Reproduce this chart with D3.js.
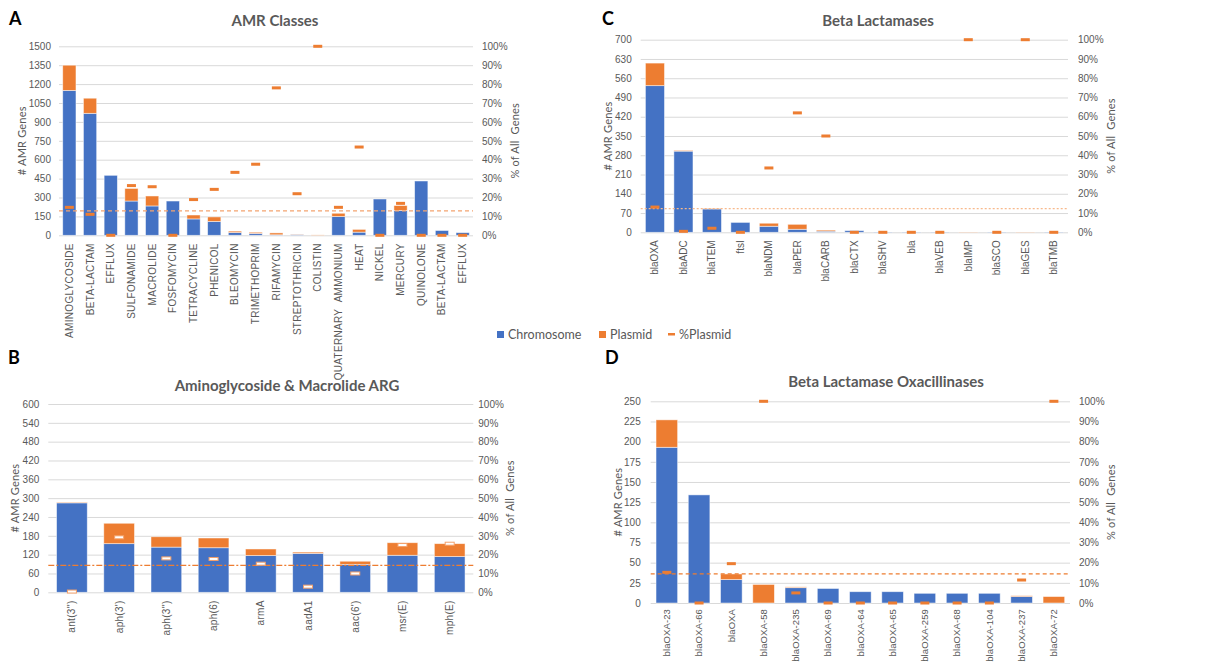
<!DOCTYPE html>
<html>
<head>
<meta charset="utf-8">
<script src="https://cdn.jsdelivr.net/npm/d3@7"></script>
<style>
  body { margin: 0; background: #fff; }
  svg { font-family: Lato, "Open Sans", sans-serif; }
  .tick text { fill: #595959; font-size: 10px; }
  .grid line { stroke: #d9d9d9; }
  .title { fill: #595959; font-size: 15px; font-weight: bold; }
  .letter { fill: #000; font-size: 18px; font-weight: bold; }
  .axtitle { fill: #595959; font-size: 11px; letter-spacing: 0.2px; }
  .legend text { fill: #595959; font-size: 12.5px; }
</style>
</head>
<body>
<svg id="chart" width="1206" height="666"></svg>
<script>
// A - AMR classes
var classCats = ["AMINOGLYCOSIDE", "BETA-LACTAM", "EFFLUX", "SULFONAMIDE", "MACROLIDE", "FOSFOMYCIN",
  "TETRACYCLINE", "PHENICOL", "BLEOMYCIN", "TRIMETHOPRIM", "RIFAMYCIN", "STREPTOTHRICIN", "COLISTIN",
  "QUATERNARY AMMONIUM", "HEAT", "NICKEL", "MERCURY", "QUINOLONE", "BETA-LACTAM", "EFFLUX"];
var classChrom   = [1150, 968, 476, 272, 233, 272, 130, 110, 22, 15, 4, 7, 0, 149, 25, 288, 196, 431, 38, 21];
var classPlasmid = [200, 120, 0, 100, 79, 0, 31, 36, 11, 9, 15, 2, 3, 26, 22, 0, 40, 0, 0, 0];
var classPct     = [0.148, 0.111, 0, 0.263, 0.257, 0, 0.189, 0.243, 0.333, 0.376, 0.78, 0.22, 1, 0.148, 0.467, 0, 0.169, 0, 0, 0];
var classAvg = 0.129;
var classTicks = d3.range(0, 1501, 150);

// B - aminoglycoside & macrolide ARG
var argCats = ["ant(3'')", "aph(3')", "aph(3'')", "aph(6)", "armA", "aadA1", "aac(6')", "msr(E)", "mph(E)"];
var argChrom   = [285, 155, 144, 142, 117, 124, 89, 118, 114];
var argPlasmid = [2, 65, 33, 31, 21, 4, 10, 40, 41];
var argPct     = [0.004, 0.292, 0.18, 0.177, 0.152, 0.03, 0.10, 0.251, 0.258];
var argAvg = 0.143;
var argTicks = d3.range(0, 601, 60);

// C - beta lactamases
var blaCats = ["blaOXA", "blaADC", "blaTEM", "ftsI", "blaNDM", "blaPER", "blaCARB", "blaCTX", "blaSHV",
  "bla", "blaVEB", "blaIMP", "blaSCO", "blaGES", "blaTMB"];
var blaChrom   = [533, 295, 85, 36, 22, 11, 4, 6, 1, 1, 1, 0, 1, 0, 1];
var blaPlasmid = [82, 3, 2, 0, 11, 18, 4, 0, 0, 0, 0, 1, 0, 1, 0];
var blaPct     = [0.131, 0.005, 0.021, 0, 0.334, 0.62, 0.50, 0, 0, 0, 0, 1, 0, 1, 0];
var blaAvg = 0.123;
var blaTicks = d3.range(0, 701, 70);

// D - beta lactamase oxacillinases
var oxaCats = ["blaOXA-23", "blaOXA-66", "blaOXA", "blaOXA-58", "blaOXA-235", "blaOXA-69", "blaOXA-64",
  "blaOXA-65", "blaOXA-259", "blaOXA-68", "blaOXA-104", "blaOXA-237", "blaOXA-72"];
var oxaChrom   = [193, 134, 29, 0, 19, 18, 14, 14, 12, 12, 12, 8, 0];
var oxaPlasmid = [34, 0, 7, 23, 1, 0, 0, 0, 0, 0, 0, 1, 8];
var oxaPct     = [0.152, 0, 0.195, 1, 0.05, 0, 0, 0, 0, 0, 0, 0.114, 1];
var oxaAvg = 0.144;
var oxaTicks = d3.range(0, 251, 25);

var blue = "#4472C4", orange = "#ED7D31";
var svg = d3.select("#chart");

function drawPanel(p) {
  var w = p.x1 - p.x0, h = p.y1 - p.y0;
  var g = svg.append("g").attr("transform", "translate(" + p.x0 + "," + p.y0 + ")");

  var x = d3.scaleBand().domain(d3.range(p.cats.length)).range([0, w]).paddingInner(p.pad).paddingOuter(p.pad / 2);
  var y = d3.scaleLinear().domain([0, d3.max(p.ticks)]).range([h, 0]);
  var yPct = d3.scaleLinear().domain([0, 1]).range([h, 0]);

  // grid + left axis
  g.append("g")
    .attr("class", "grid")
    .call(d3.axisLeft(y).tickValues(p.ticks).tickSize(-w).tickPadding(p.lpad).tickFormat(d3.format("d")))
    .call(function(a) { a.select(".domain").remove(); });

  g.append("g")
    .attr("transform", "translate(" + w + ",0)")
    .call(d3.axisRight(yPct).tickValues(d3.range(0, 1.01, 0.1)).tickSize(0).tickPadding(p.rpad).tickFormat(d3.format(".0%")))
    .call(function(a) { a.select(".domain").remove(); });

  // stacked bars
  var bars = g.append("g");
  p.cats.forEach(function(c, i) {
    bars.append("rect")
      .attr("x", x(i)).attr("width", x.bandwidth())
      .attr("y", y(p.chrom[i])).attr("height", h - y(p.chrom[i]))
      .attr("fill", blue).attr("stroke", "#fff").attr("stroke-opacity", 0.6).attr("stroke-width", 0.8);
    bars.append("rect")
      .attr("x", x(i)).attr("width", x.bandwidth())
      .attr("y", y(p.chrom[i] + p.plasmid[i])).attr("height", h - y(p.plasmid[i]))
      .attr("fill", orange).attr("stroke", "#fff").attr("stroke-opacity", 0.6).attr("stroke-width", 0.8);
  });

  // average %plasmid line
  g.append("line")
    .attr("x1", 0).attr("x2", w)
    .attr("y1", yPct(p.avg)).attr("y2", yPct(p.avg))
    .attr("stroke", p.avgColor).attr("stroke-width", 1.3)
    .attr("stroke-dasharray", p.dash);

  // %plasmid markers
  g.append("g").selectAll("rect")
    .data(p.pct)
    .join("rect")
      .attr("x", function(d, i) { return x(i) + x.bandwidth() / 2 - 4.5; })
      .attr("y", function(d) { return yPct(d) - 1.5; })
      .attr("width", 9).attr("height", 3)
      .attr("fill", p.hollow ? "#fff" : orange)
      .attr("stroke", p.hollow ? "#f4a06a" : "none")
      .attr("stroke-width", 1);

  // category labels
  g.append("g")
    .attr("transform", "translate(0," + h + ")")
    .call(d3.axisBottom(x).tickSize(0).tickFormat(function(i) { return p.cats[i]; }))
    .call(function(a) { a.select(".domain").remove(); })
    .selectAll("text")
      .attr("transform", "rotate(-90)")
      .attr("text-anchor", "end")
      .attr("x", -p.labelGap).attr("y", 0).attr("dy", "0.35em")
      .style("font-size", p.catSize + "px")
      .style("letter-spacing", p.spacing + "px")
      .style("word-spacing", p.wordGap + "px");

  // titles
  svg.append("text").attr("class", "title").attr("x", p.titleX).attr("y", p.titleY)
    .attr("text-anchor", "middle").text(p.title);
  svg.append("text").attr("class", "letter").attr("x", p.letterX).attr("y", p.letterY).text(p.letter);
  svg.append("text").attr("class", "axtitle")
    .attr("transform", "translate(" + p.ltX + "," + (p.y0 + h / 2) + ") rotate(-90)")
    .attr("text-anchor", "middle").attr("dy", "0.35em").text("# AMR Genes");
  svg.append("text").attr("class", "axtitle")
    .attr("transform", "translate(" + p.rtX + "," + (p.y0 + h / 2) + ") rotate(-90)")
    .attr("text-anchor", "middle").attr("dy", "0.35em").attr("xml:space", "preserve").text("% of All  Genes");
}

drawPanel({
  cats: classCats, chrom: classChrom, plasmid: classPlasmid, pct: classPct, avg: classAvg, ticks: classTicks,
  x0: 59, x1: 473, y0: 46.3, y1: 235.3, pad: 0.36, lpad: 8, rpad: 9,
  title: "AMR Classes", titleX: 275, titleY: 26, letter: "A", letterX: 9, letterY: 25,
  ltX: 22, rtX: 515, avgColor: "#F4A470", dash: "4,3", hollow: false,
  catSize: 10, spacing: 0.3, wordGap: 4, labelGap: 8
});

drawPanel({
  cats: argCats, chrom: argChrom, plasmid: argPlasmid, pct: argPct, avg: argAvg, ticks: argTicks,
  x0: 48.3, x1: 473.3, y0: 404, y1: 592.3, pad: 0.35, lpad: 9, rpad: 5,
  title: "Aminoglycoside & Macrolide ARG", titleX: 287, titleY: 391, letter: "B", letterX: 8, letterY: 364,
  ltX: 15, rtX: 510, avgColor: orange, dash: "6,2,2,2", hollow: true,
  catSize: 10, spacing: 0.3, wordGap: 0, labelGap: 8
});

drawPanel({
  cats: blaCats, chrom: blaChrom, plasmid: blaPlasmid, pct: blaPct, avg: blaAvg, ticks: blaTicks,
  x0: 640.7, x1: 1068, y0: 39.7, y1: 232.3, pad: 0.33, lpad: 9, rpad: 10,
  title: "Beta Lactamases", titleX: 878, titleY: 26, letter: "C", letterX: 602, letterY: 25,
  ltX: 608, rtX: 1111, avgColor: "#F8B98C", dash: "2,2", hollow: false,
  catSize: 10, spacing: 0, wordGap: 0, labelGap: 8
});

drawPanel({
  cats: oxaCats, chrom: oxaChrom, plasmid: oxaPlasmid, pct: oxaPct, avg: oxaAvg, ticks: oxaTicks,
  x0: 650.7, x1: 1070, y0: 401.3, y1: 603, pad: 0.33, lpad: 10, rpad: 9,
  title: "Beta Lactamase Oxacillinases", titleX: 886, titleY: 387, letter: "D", letterX: 605, letterY: 364,
  ltX: 618, rtX: 1111, avgColor: orange, dash: "4,3", hollow: false,
  catSize: 9.5, spacing: 0.1, wordGap: 0, labelGap: 6
});

// legend
var legendItems = [
  {name: "Chromosome", color: blue, x: 497, kind: "box"},
  {name: "Plasmid", color: orange, x: 599, kind: "box"},
  {name: "%Plasmid", color: orange, x: 668, kind: "dash"}
];
var legend = svg.append("g").attr("class", "legend");
legendItems.forEach(function(d) {
  if (d.kind === "box") {
    legend.append("rect").attr("x", d.x).attr("y", 331).attr("width", 7).attr("height", 7).attr("fill", d.color);
  } else {
    legend.append("rect").attr("x", d.x).attr("y", 333).attr("width", 7).attr("height", 2.5).attr("fill", d.color);
  }
  legend.append("text").attr("x", d.x + 11).attr("y", 334.5).attr("dy", "0.35em").text(d.name);
});
</script>
</body>
</html>
